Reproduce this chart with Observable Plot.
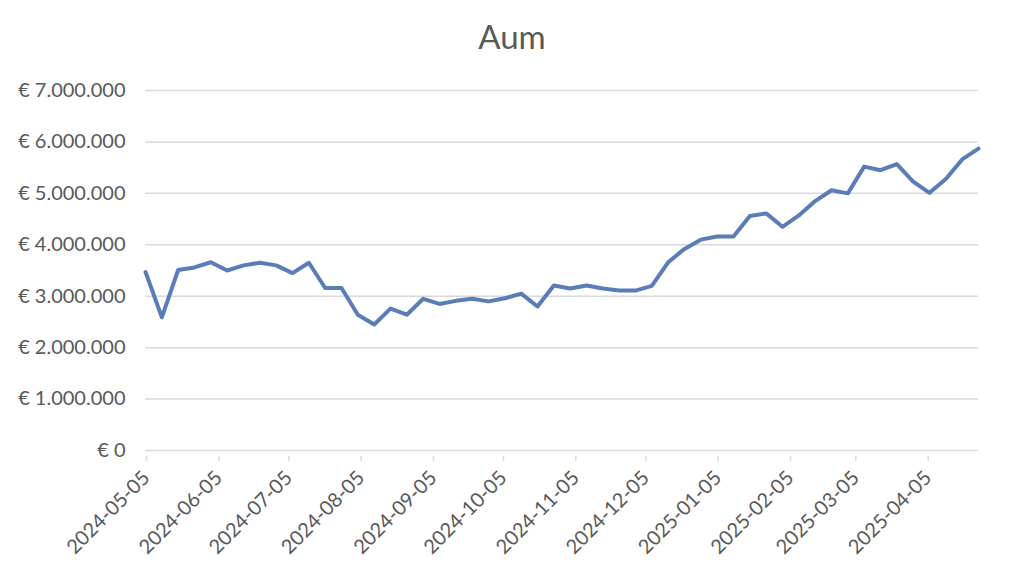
<!DOCTYPE html>
<html>
<head>
<meta charset="utf-8">
<script src="https://cdn.jsdelivr.net/npm/d3@7"></script>
<script src="https://cdn.jsdelivr.net/npm/@observablehq/plot@0.6"></script>
<style>
  html, body { margin: 0; padding: 0; background: #fff; }
  #title { height: 70px; line-height: 72px; text-align: center; font-family: Lato, "Open Sans", sans-serif; font-size: 33px; color: #595959; }
</style>
</head>
<body>
<div id="title">Aum</div>
<div id="chart"></div>
<script>
const dates = [
  "2024-05-05","2024-05-12","2024-05-19","2024-05-26","2024-06-02","2024-06-09","2024-06-16","2024-06-23","2024-06-30",
  "2024-07-07","2024-07-14","2024-07-21","2024-07-28","2024-08-04","2024-08-11","2024-08-18","2024-08-25",
  "2024-09-01","2024-09-08","2024-09-15","2024-09-22","2024-09-29","2024-10-06","2024-10-13","2024-10-20","2024-10-27",
  "2024-11-03","2024-11-10","2024-11-17","2024-11-24","2024-12-01","2024-12-08","2024-12-15","2024-12-22","2024-12-29",
  "2025-01-05","2025-01-12","2025-01-19","2025-01-26","2025-02-02","2025-02-09","2025-02-16","2025-02-23",
  "2025-03-02","2025-03-09","2025-03-16","2025-03-23","2025-03-30","2025-04-06","2025-04-13","2025-04-20","2025-04-27"
];
const aum = [
  3470000, 2590000, 3510000, 3560000, 3660000, 3500000, 3600000, 3650000, 3600000,
  3450000, 3650000, 3160000, 3160000, 2640000, 2450000, 2760000, 2640000,
  2950000, 2850000, 2910000, 2950000, 2900000, 2960000, 3050000, 2800000, 3210000,
  3150000, 3210000, 3150000, 3110000, 3110000, 3200000, 3660000, 3920000, 4100000,
  4160000, 4160000, 4560000, 4610000, 4350000, 4570000, 4850000, 5060000,
  5000000, 5520000, 5450000, 5570000, 5230000, 5010000, 5280000, 5660000, 5870000
];
const xTicks = ["2024-05-05","2024-06-05","2024-07-05","2024-08-05","2024-09-05","2024-10-05",
  "2024-11-05","2024-12-05","2025-01-05","2025-02-05","2025-03-05","2025-04-05"];
const yTicks = [0, 1000000, 2000000, 3000000, 4000000, 5000000, 6000000, 7000000];

const data = dates.map((d, i) => ({date: new Date(d), value: aum[i]}));
const fmtY = v => "€ " + d3.format(",")(v).replace(/,/g, ".");

const chart = Plot.plot({
  width: 1024,
  height: 509,
  marginTop: 20,
  marginBottom: 129,
  marginLeft: 145,
  marginRight: 46,
  style: {fontFamily: "Lato, 'Open Sans', sans-serif", fontSize: "20px", color: "#595959", background: "#fff"},
  x: {type: "utc", domain: [new Date(dates[0]), new Date(dates[dates.length - 1])]},
  y: {domain: [0, 7000000]},
  marks: [
    Plot.ruleY(yTicks, {stroke: "#d9d9d9", strokeWidth: 1.5}),
    Plot.axisY({ticks: yTicks, tickFormat: fmtY, tickSize: 0, tickPadding: 20, fontSize: 20, fill: "#595959", label: null}),
    Plot.axisX({ticks: xTicks.map(d => new Date(d)), tickFormat: d3.utcFormat("%Y-%m-%d"), tickSize: 5, stroke: "#d9d9d9", strokeWidth: 1.5, tickRotate: -45, tickPadding: 13, dx: 1, dy: 6, fontSize: 20, fill: "#595959", label: null}),
    Plot.line(data, {x: "date", y: "value", stroke: "#5a7db8", strokeWidth: 4, strokeLinejoin: "round", strokeLinecap: "round"})
  ]
});
document.getElementById("chart").appendChild(chart);
</script>
</body>
</html>
